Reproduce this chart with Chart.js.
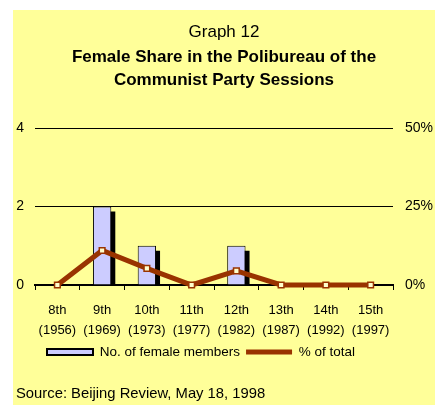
<!DOCTYPE html>
<html>
<head>
<meta charset="utf-8">
<script src="https://cdn.jsdelivr.net/npm/chart.js@4.4.1/dist/chart.umd.min.js"></script>
<style>
  html, body { margin: 0; padding: 0; background: #ffffff; }
  #panel { position: absolute; left: 13px; top: 10px; width: 422px; height: 395px; background: #FFFF99; }
  #c { position: absolute; left: 0; top: 0; }
  #source { position: absolute; left: 3px; top: 375px; font: 14.8px "Liberation Sans", Arial, sans-serif; color: #000; white-space: nowrap; }
</style>
</head>
<body>
<div id="panel">
  <canvas id="c" width="422" height="395"></canvas>
  <div id="source">Source: Beijing Review, May 18, 1998</div>
</div>
<script>
// ---- data ----
const sessions = ["8th", "9th", "10th", "11th", "12th", "13th", "14th", "15th"];
const years = ["(1956)", "(1969)", "(1973)", "(1977)", "(1982)", "(1987)", "(1992)", "(1997)"];
const femaleMembers = [0, 2, 1, 0, 1, 0, 0, 0];
const percentOfTotal = [0, 11, 5.3, 0, 4.5, 0, 0, 0];
const leftTickValues = [0, 2, 4];
const leftTickLabels = ["0", "2", "4"];
const rightTickValues = [0, 25, 50];
const rightTickLabels = ["0%", "25%", "50%"];
const seriesNames = ["No. of female members", "% of total"];
const titleText = "Graph 12";
const subtitleLines = ["Female Share in the Polibureau of the", "Communist Party Sessions"];

const FONT = '"Liberation Sans", Arial, sans-serif';
const BROWN = '#993300';

// drop shadow behind the bars, derived from the bar elements' own geometry
const barShadow = {
  id: 'barShadow',
  beforeDatasetDraw(chart, args) {
    if (args.index !== 0) return;
    const ctx = chart.ctx;
    const area = chart.chartArea;
    ctx.save();
    ctx.beginPath();
    ctx.rect(area.left, area.top, area.right - area.left, area.bottom - area.top);
    ctx.clip();
    ctx.fillStyle = '#000000';
    args.meta.data.forEach((el) => {
      const p = el.getProps(['x', 'y', 'base', 'width'], true);
      if (p.base - p.y > 0.5) {
        ctx.fillRect(p.x - p.width / 2 + 4, p.y + 5, p.width, p.base - p.y);
      }
    });
    ctx.restore();
  }
};

// place legend start like the reference
const legendShift = {
  id: 'legendShift',
  afterLayout(chart) {
    if (chart.legend) chart.legend.left = 28;
  }
};

new Chart(document.getElementById('c'), {
  type: 'bar',
  data: {
    labels: sessions.map((s, i) => [s, years[i]]),
    datasets: [
      {
        type: 'bar',
        label: seriesNames[0],
        data: femaleMembers,
        yAxisID: 'y',
        backgroundColor: '#CCCCFF',
        borderColor: '#000000',
        borderWidth: 1,
        barPercentage: 0.41,
        categoryPercentage: 1,
        order: 1
      },
      {
        type: 'line',
        label: seriesNames[1],
        data: percentOfTotal,
        yAxisID: 'y2',
        borderColor: BROWN,
        borderWidth: 5,
        pointStyle: 'rect',
        pointRadius: 4,
        pointBorderColor: BROWN,
        pointBorderWidth: 1.5,
        pointBackgroundColor: '#FFFFCC',
        tension: 0,
        clip: false,
        order: 0
      }
    ]
  },
  options: {
    responsive: false,
    animation: false,
    devicePixelRatio: 1,
    layout: { padding: { left: 0, right: 0, top: 0, bottom: 36.25 } },
    plugins: {
      title: {
        display: true,
        text: titleText,
        color: '#000',
        font: { family: FONT, size: 17, weight: 'normal', lineHeight: 1.2 },
        padding: { top: 12, bottom: 2 }
      },
      subtitle: {
        display: true,
        text: subtitleLines,
        color: '#000',
        font: { family: FONT, size: 17, weight: 'bold', lineHeight: 1.38 },
        padding: { top: 1, bottom: 35.7 }
      },
      legend: {
        display: true,
        position: 'bottom',
        align: 'start',
        labels: {
          color: '#000',
          font: { family: FONT, size: 13.5 },
          usePointStyle: true,
          pointStyleWidth: 46,
          boxHeight: 6,
          padding: 6,
          generateLabels(chart) {
            return [
              { text: seriesNames[0], pointStyle: 'rect', fillStyle: '#CCCCFF', strokeStyle: '#000', lineWidth: 2, datasetIndex: 0, hidden: false },
              { text: seriesNames[1], pointStyle: 'line', fillStyle: BROWN, strokeStyle: BROWN, lineWidth: 5, datasetIndex: 1, hidden: false }
            ];
          }
        }
      },
      tooltip: { enabled: false }
    },
    scales: {
      x: {
        afterFit(scale) { scale.height = 54.25; },
        grid: { display: true, drawOnChartArea: false, drawTicks: true, tickLength: 5, color: '#000', lineWidth: 1, offset: true },
        border: { display: true, color: '#000', width: 2 },
        ticks: { color: '#000', font: { family: FONT, size: 13, lineHeight: 1.54 }, padding: 10, maxRotation: 0, autoSkip: false }
      },
      y: {
        position: 'left',
        min: 0, max: 4,
        afterBuildTicks(scale) { scale.ticks = leftTickValues.map(v => ({ value: v })); },
        afterFit(scale) { scale.width = 22; },
        grid: { display: true, color: (c) => c.tick && c.tick.value === 0 ? 'rgba(0,0,0,0)' : '#000', lineWidth: 1, drawTicks: false },
        border: { display: false },
        ticks: {
          color: '#000', font: { family: FONT, size: 14 }, padding: 11,
          callback: (v) => leftTickLabels[leftTickValues.indexOf(v)]
        }
      },
      y2: {
        position: 'right',
        min: 0, max: 50,
        afterBuildTicks(scale) { scale.ticks = rightTickValues.map(v => ({ value: v })); },
        afterFit(scale) { scale.width = 42; },
        grid: { display: false, drawTicks: false },
        border: { display: false },
        ticks: {
          color: '#000', font: { family: FONT, size: 14 }, padding: 12,
          callback: (v) => rightTickLabels[rightTickValues.indexOf(v)]
        }
      }
    }
  },
  plugins: [barShadow, legendShift]
});
</script>
</body>
</html>
